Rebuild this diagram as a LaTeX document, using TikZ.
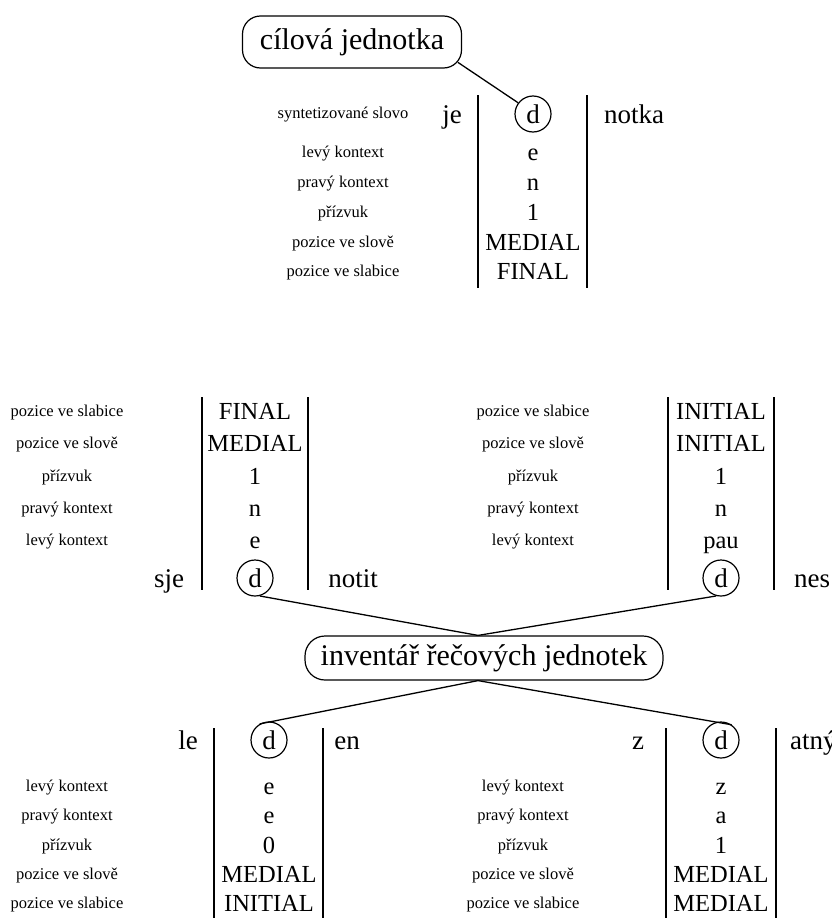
\documentclass[tikz,border=0pt]{standalone}
\usepackage{fontspec}
\setmainfont{Liberation Serif}
\usetikzlibrary{calc}
\begin{document}
\begin{tikzpicture}[x=1pt,y=-1pt,
  lbl/.style={font=\fontsize{16.5}{18}\selectfont, inner sep=0pt, text height=11.5pt, text depth=0pt},
  val/.style={font=\fontsize{24.5}{27}\selectfont, inner sep=0pt, text height=17pt, text depth=0pt},
  word/.style={font=\fontsize{27}{30}\selectfont, inner sep=0pt, text height=19pt, text depth=0pt},
  unit/.style={draw, circle, line width=1.2pt, minimum size=36pt, inner sep=0pt,
               font=\fontsize{27}{30}\selectfont, text height=19pt, text depth=0pt},
  store/.style={draw, rounded corners=18pt, line width=1.2pt, inner sep=0pt,
                font=\fontsize{30}{34}\selectfont, text height=21pt, text depth=6pt},
  bar/.style={line width=1.3pt},
  link/.style={line width=1.3pt}]
\useasboundingbox (0,0) rectangle (832,918);
\clip (0,0) rectangle (832,918);

% ---------- target unit ----------
\node[store, minimum width=219pt, minimum height=52pt] (target) at (352,42) {cílová jednotka};
\node[lbl] (tl0) at (343,113) {syntetizované slovo};
\node[lbl] (tl1) at (343,152) {levý kontext};
\node[lbl] (tl2) at (343,182) {pravý kontext};
\node[lbl] (tl3) at (343,212) {přízvuk};
\node[lbl] (tl4) at (343,242) {pozice ve slově};
\node[lbl] (tl5) at (343,271) {pozice ve slabice};
\node[word] (tw1) at (452,114) {je};
\node[unit] (td) at (533,114) {d};
\node[word] (tw2) at (634,114) {notka};
\node[val] (tv1) at (533,152) {e};
\node[val] (tv2) at (533,182) {n};
\node[val] (tv3) at (533,212) {1};
\node[val] (tv4) at (533,242) {MEDIAL};
\node[val] (tv5) at (533,271) {FINAL};
\coordinate (ta1) at (478,95);  \coordinate (ta2) at (478,288);
\coordinate (tb1) at (587,95);  \coordinate (tb2) at (587,288);
\draw[bar] (ta1) -- (ta2);
\draw[bar] (tb1) -- (tb2);
\draw[link] ($(target.south east)+(-4.3,-6.3)$) -- (td.143);

% ---------- unit inventory ----------
\node[store, minimum width=358pt, minimum height=44pt, rounded corners=20pt] (inv) at (484,658) {inventář řečových jednotek};
\coordinate (invtop) at ($(inv.north)+(-6,0)$);
\coordinate (invbot) at ($(inv.south)+(-6,0)$);

% ---------- candidate: sje|d|notit ----------
\node[lbl] (al5) at (67,411) {pozice ve slabice};
\node[lbl] (al4) at (67,443) {pozice ve slově};
\node[lbl] (al3) at (67,476) {přízvuk};
\node[lbl] (al2) at (67,508) {pravý kontext};
\node[lbl] (al1) at (67,540) {levý kontext};
\node[val] (av5) at (255,411) {FINAL};
\node[val] (av4) at (255,443) {MEDIAL};
\node[val] (av3) at (255,476) {1};
\node[val] (av2) at (255,508) {n};
\node[val] (av1) at (255,540) {e};
\node[word] (aw1) at (169,578) {sje};
\node[unit] (ad) at (255,578) {d};
\node[word] (aw2) at (353,578) {notit};
\coordinate (aa1) at (202,397);  \coordinate (aa2) at (202,590);
\coordinate (ab1) at (308,397);  \coordinate (ab2) at (308,590);
\draw[bar] (aa1) -- (aa2);
\draw[bar] (ab1) -- (ab2);

% ---------- candidate: d|nes ----------
\node[lbl] (bl5) at (533,411) {pozice ve slabice};
\node[lbl] (bl4) at (533,443) {pozice ve slově};
\node[lbl] (bl3) at (533,476) {přízvuk};
\node[lbl] (bl2) at (533,508) {pravý kontext};
\node[lbl] (bl1) at (533,540) {levý kontext};
\node[val] (bv5) at (721,411) {INITIAL};
\node[val] (bv4) at (721,443) {INITIAL};
\node[val] (bv3) at (721,476) {1};
\node[val] (bv2) at (721,508) {n};
\node[val] (bv1) at (721,540) {pau};
\node[unit] (bd) at (721,578) {d};
\node[word] (bw2) at (812,578) {nes};
\coordinate (ba1) at (668,397);  \coordinate (ba2) at (668,590);
\coordinate (bb1) at (774,397);  \coordinate (bb2) at (774,590);
\draw[bar] (ba1) -- (ba2);
\draw[bar] (bb1) -- (bb2);

% ---------- candidate: le|d|en ----------
\node[word] (cw1) at (188,740) {le};
\node[unit] (cd) at (269,740) {d};
\node[word] (cw2) at (347,740) {en};
\node[lbl] (cl1) at (67,786) {levý kontext};
\node[lbl] (cl2) at (67,815) {pravý kontext};
\node[lbl] (cl3) at (67,845) {přízvuk};
\node[lbl] (cl4) at (67,874) {pozice ve slově};
\node[lbl] (cl5) at (67,903) {pozice ve slabice};
\node[val] (cv1) at (269,786) {e};
\node[val] (cv2) at (269,815) {e};
\node[val] (cv3) at (269,845) {0};
\node[val] (cv4) at (269,874) {MEDIAL};
\node[val] (cv5) at (269,903) {INITIAL};
\coordinate (ca1) at (214,728);  \coordinate (ca2) at (214,920);
\coordinate (cb1) at (323,728);  \coordinate (cb2) at (323,920);
\draw[bar] (ca1) -- (ca2);
\draw[bar] (cb1) -- (cb2);

% ---------- candidate: z|d|atný (runs past the right edge) ----------
\node[word] (dw1) at (638,740) {z};
\node[unit] (dd) at (721,740) {d};
\node[word, anchor=west] (dw2) at (790,740) {atný};
\node[lbl] (dl1) at (523,786) {levý kontext};
\node[lbl] (dl2) at (523,815) {pravý kontext};
\node[lbl] (dl3) at (523,845) {přízvuk};
\node[lbl] (dl4) at (523,874) {pozice ve slově};
\node[lbl] (dl5) at (523,903) {pozice ve slabice};
\node[val] (dv1) at (721,786) {z};
\node[val] (dv2) at (721,815) {a};
\node[val] (dv3) at (721,845) {1};
\node[val] (dv4) at (721,874) {MEDIAL};
\node[val] (dv5) at (721,903) {MEDIAL};
\coordinate (da1) at (666,728);  \coordinate (da2) at (666,920);
\coordinate (db1) at (776,728);  \coordinate (db2) at (776,920);
\draw[bar] (da1) -- (da2);
\draw[bar] (db1) -- (db2);

% ---------- links from the inventory ----------
\draw[link] (invtop) -- (ad.-75);
\draw[link] (invtop) -- (bd.-105);
\draw[link] (invbot) -- (cd.120);
\draw[link] (invbot) -- (dd.55);
\end{tikzpicture}
\end{document}
